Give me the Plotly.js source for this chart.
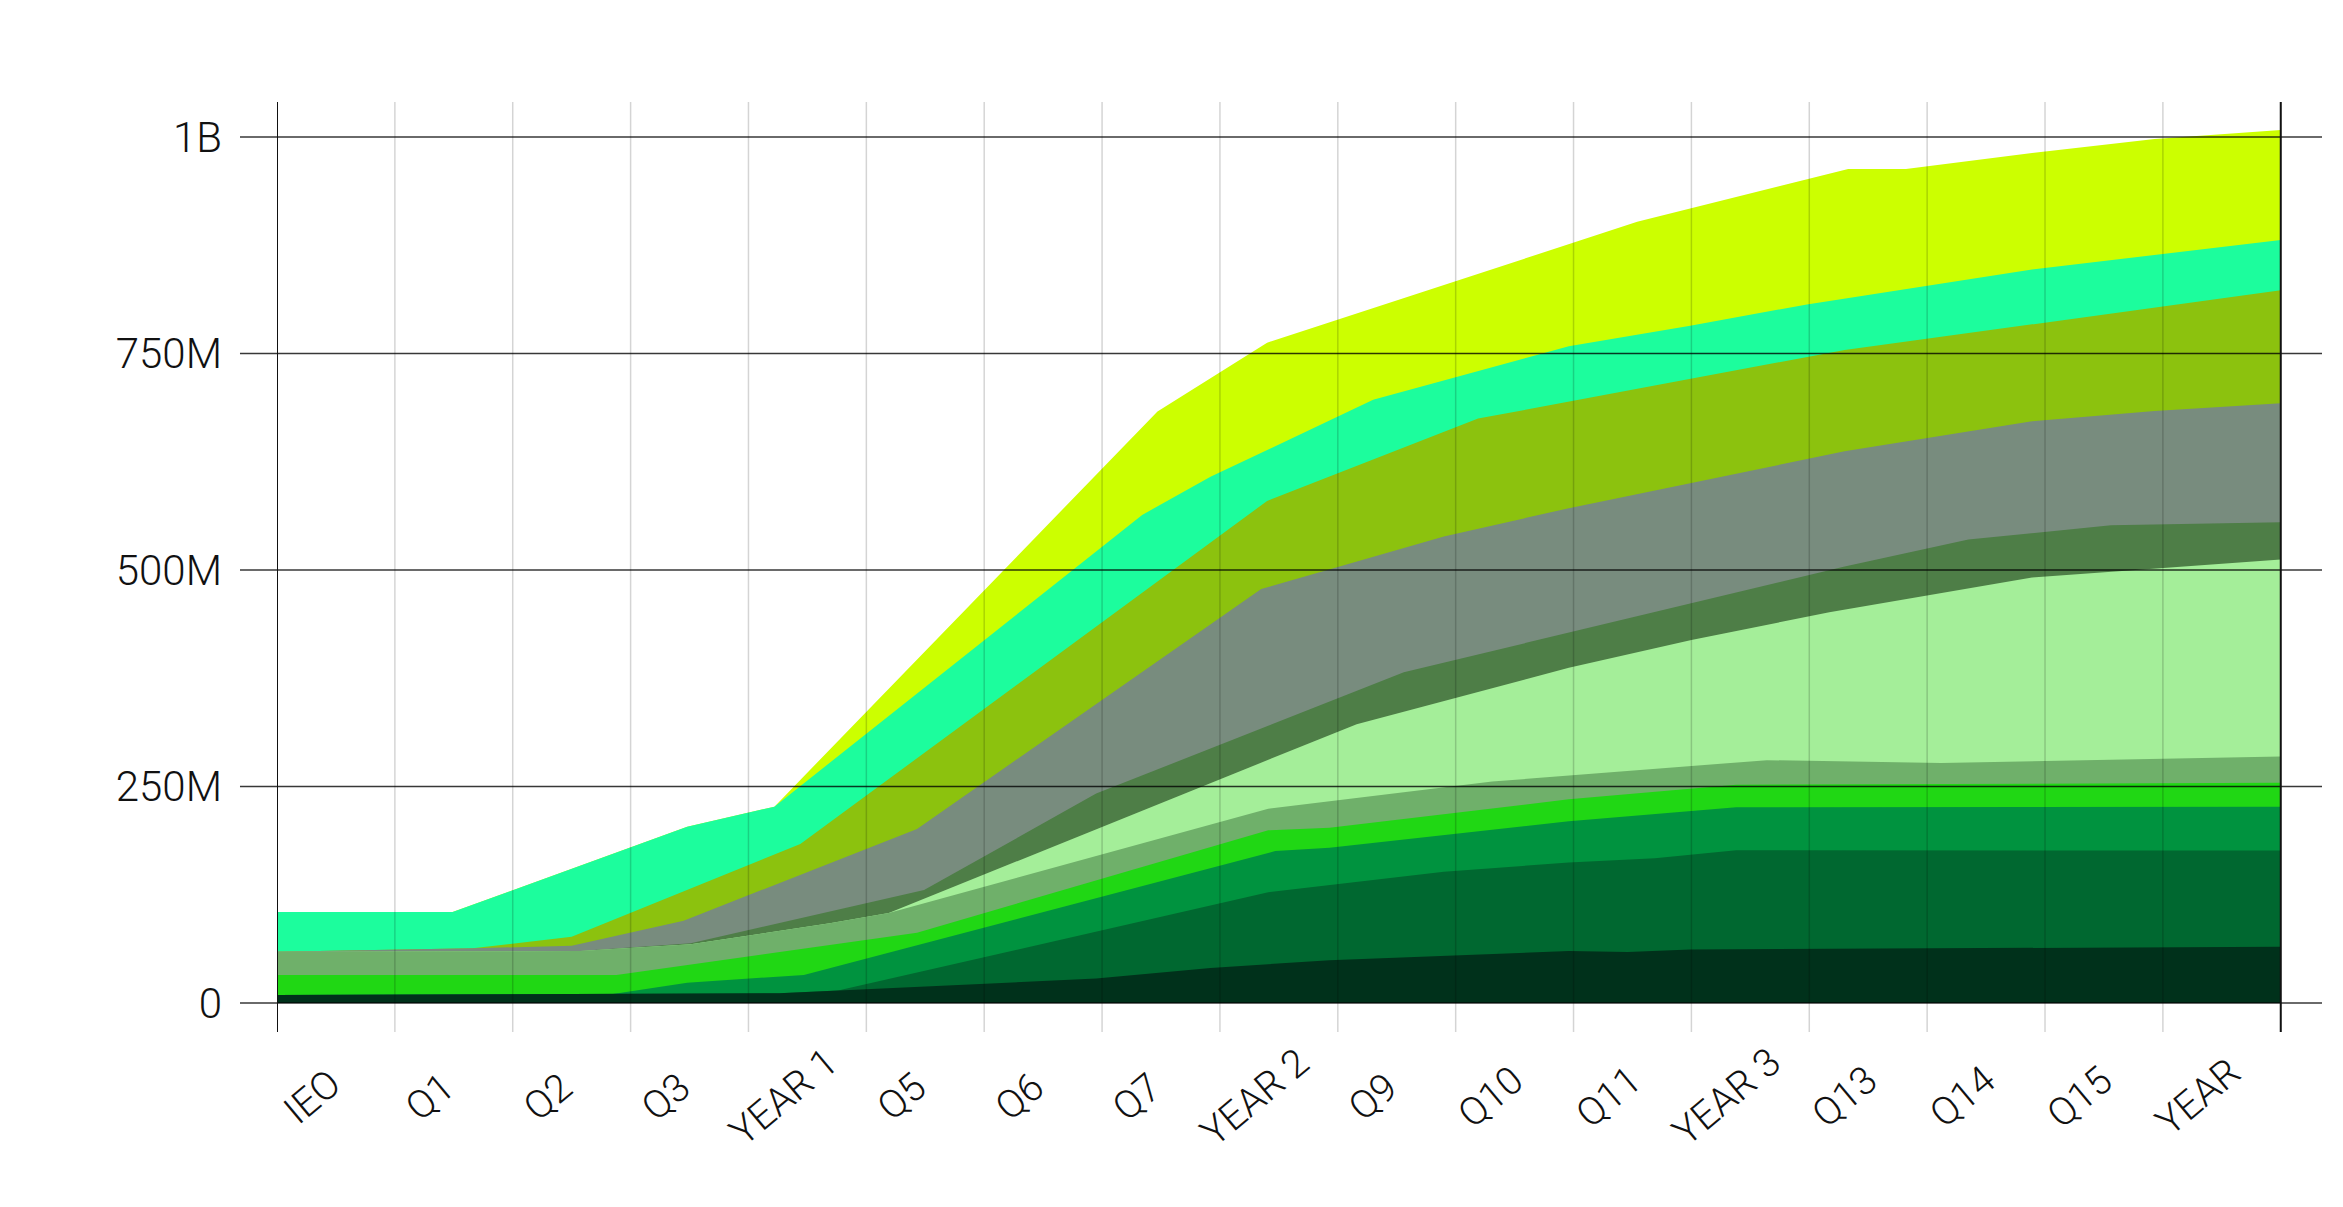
<!DOCTYPE html>
<html>
<head>
<meta charset="utf-8">
<script src="https://cdn.plot.ly/plotly-3.0.1.min.js"></script>
<style>
  html, body { margin: 0; padding: 0; background: #fff; }
  #chart { width: 2343px; height: 1207px; }
</style>
</head>
<body>
<div id="chart"></div>
<script>
// period labels, one per column
var periods = ['IEO', 'Q1', 'Q2', 'Q3', 'YEAR 1', 'Q5', 'Q6', 'Q7', 'YEAR 2',
               'Q9', 'Q10', 'Q11', 'YEAR 3', 'Q13', 'Q14', 'Q15', 'YEAR'];

// y ticks (millions)
var yTickVals = [0, 250, 500, 750, 1000];
var yTickText = ['0', '250M', '500M', '750M', '1B'];

// cumulative tops of each band (x = column position, y = millions)
var limeX = [0, 1.49, 3.48, 4.22, 7.47, 8.4, 11.54, 13.33, 13.82, 14.89, 15.93, 17];
var limeY = [105, 105, 203.6, 226.7, 683, 762.5, 902, 963, 963, 981.6, 997.7, 1008];

var mintX = [0, 1.49, 3.48, 4.22, 7.34, 7.92, 9.3, 10.96, 11.99, 12.98, 14.89, 17];
var mintY = [105, 105, 203.6, 226.7, 563.6, 607.6, 696.5, 758.4, 782, 806.7, 847, 881];

var oliveX = [0, 1.66, 2.5, 4.44, 8.4, 10.19, 13.3, 17];
var oliveY = [59.3, 63.1, 76.6, 183.6, 579.7, 674.8, 754, 822.9];

var slateX = [0, 1.66, 2.5, 3.45, 5.43, 8.35, 9.9, 10.96, 13.3, 14.89, 15.93, 17];
var slateY = [59.3, 63.1, 66.2, 95, 201, 478, 538.6, 571.4, 637, 671.7, 683.5, 692.5];

var mossX = [0, 2.57, 3.51, 5.49, 6.95, 9.56, 13.3, 14.35, 15.56, 17];
var mossY = [59.3, 60, 68.9, 130.5, 241.8, 382, 504, 535.1, 551.7, 555.2];

var paleX = [0, 2.57, 3.51, 4.69, 5.19, 9.16, 10.96, 12.0, 13.17, 14.89, 17];
var paleY = [59.3, 60, 67.8, 92, 103.9, 322, 387, 419.2, 451.2, 491.3, 512.1];

var sageX = [0, 2.57, 3.51, 4.69, 5.19, 8.41, 10.31, 12.64, 14.12, 17];
var sageY = [59.3, 60, 67.8, 92, 103.9, 224.4, 255.7, 280.4, 277.1, 284.6];

var brightX = [0, 2.88, 5.43, 8.41, 8.93, 10.96, 12.38, 17];
var brightY = [32.3, 32.3, 81.2, 199.4, 202.4, 235.2, 252, 254.2];

var emeraldX = [0, 2.85, 3.48, 4.47, 8.47, 8.93, 10.96, 12.38, 17];
var emeraldY = [9.2, 10.4, 23.5, 32.3, 175.5, 179.4, 209.8, 226, 226.5];

var forestX = [0, 4.26, 4.76, 8.41, 9.9, 10.96, 11.69, 12.38, 17];
var forestY = [9.2, 11.2, 14.4, 127.8, 151.6, 162.1, 167.1, 176.4, 176];

var deepX = [0, 4.26, 6.95, 7.92, 8.93, 10.96, 11.46, 11.99, 17];
var deepY = [9.2, 11.2, 28.2, 40.4, 49.4, 59.9, 58.8, 61.9, 64.9];

// painted back to front, each band filled down to zero
var bands = [
    [limeX, limeY, '#ccff00'],
    [mintX, mintY, '#1cfd9d'],
    [oliveX, oliveY, '#8cc20e'],
    [slateX, slateY, '#788c7e'],
    [mossX, mossY, '#4e7e47'],
    [paleX, paleY, '#a4ee99'],
    [sageX, sageY, '#6fb06a'],
    [brightX, brightY, '#20d714'],
    [emeraldX, emeraldY, '#00933f'],
    [forestX, forestY, '#006830'],
    [deepX, deepY, '#00311b']
];

var traces = bands.map(function (b) {
    return {
        x: b[0],
        y: b[1],
        type: 'scatter',
        mode: 'none',
        fill: 'tozeroy',
        fillcolor: b[2],
        hoverinfo: 'skip'
    };
});

var family = 'Roboto, Inter, "Noto Sans", sans-serif';
var font = { family: family, size: 42, color: '#111', weight: 300 };

var shapes = [];
// light column lines
for (var i = 0; i <= periods.length; i++) {
    shapes.push({
        type: 'line', layer: 'above', xref: 'x', yref: 'paper',
        x0: i, x1: i, y0: 0, y1: 1,
        line: { color: 'rgba(0,0,0,0.17)', width: 1.5 }
    });
}
// value lines, running a little past the left axis
yTickVals.forEach(function (v) {
    shapes.push({
        type: 'line', layer: 'above', xref: 'paper', yref: 'y',
        x0: -0.0181, x1: 1, y0: v, y1: v,
        line: { color: 'rgba(0,0,0,0.78)', width: 1.5 }
    });
});
// black edges of the chart
[0, periods.length].forEach(function (v) {
    shapes.push({
        type: 'line', layer: 'above', xref: 'x', yref: 'paper',
        x0: v, x1: v, y0: 0, y1: 1,
        line: { color: '#111', width: 2 }
    });
});

// rotated period labels, centred a third of a column right of each line
var annotations = periods.map(function (p, i) {
    return {
        text: p, x: i + 0.3, y: -0.07, xref: 'x', yref: 'paper',
        xanchor: 'center', yanchor: 'middle', textangle: -40,
        showarrow: false, font: { family: family, size: 39, color: '#111', weight: 300 }
    };
});

var layout = {
    width: 2343,
    height: 1207,
    margin: { l: 277, r: 21, t: 102, b: 175 },
    paper_bgcolor: '#fff',
    plot_bgcolor: '#fff',
    showlegend: false,
    font: font,
    xaxis: {
        range: [0, 17.35],
        showgrid: false, zeroline: false, showticklabels: false, ticks: '',
        fixedrange: true
    },
    yaxis: {
        range: [-33.5, 1040.4],
        showgrid: false, zeroline: false,
        tickvals: yTickVals, ticktext: yTickText,
        ticks: '', ticklabelstandoff: 54,
        tickfont: font,
        fixedrange: true
    },
    shapes: shapes,
    annotations: annotations
};

Plotly.newPlot('chart', traces, layout, { displayModeBar: false, staticPlot: true });
</script>
</body>
</html>
